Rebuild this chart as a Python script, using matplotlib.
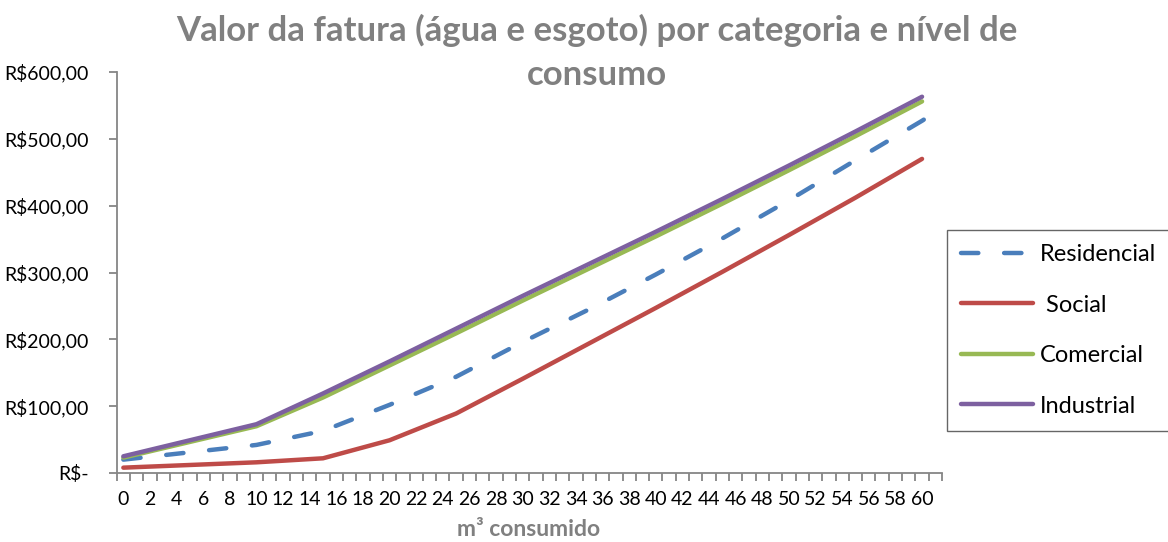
import matplotlib
matplotlib.use("Agg")
import matplotlib.pyplot as plt
from matplotlib.ticker import FixedLocator, FuncFormatter

# ---- data ----
consumo_res = [0, 10, 15, 20, 25, 30, 35, 40, 45, 50, 55, 60, 61]
residencial = [20, 42, 63, 102, 144, 196, 245, 297, 351, 408, 468, 527, 540]

consumo = [0, 10, 15, 20, 25, 30, 35, 40, 45, 50, 55, 60]
social = [8, 16, 22, 49, 89, 141, 194, 247, 301, 356, 412, 470]
comercial = [23, 70, 113, 161, 209, 258, 306, 354, 403, 453, 504, 556]
industrial = [25, 73, 119, 167, 216, 265, 313, 361, 410, 460, 511, 563]

series_labels = ["Residencial", " Social", "Comercial", "Industrial"]
x_tick_labels = [str(v) for v in range(0, 61, 2)]
y_ticks = [0, 100, 200, 300, 400, 500, 600]

title_line1 = "Valor da fatura (água e esgoto) por categoria e nível de"
title_line2 = "consumo"
x_title = "m³ consumido"

# ---- style ----
plt.rcParams['font.family'] = ['Lato', 'DejaVu Sans']
W, H = 1168, 542
fig = plt.figure(figsize=(W / 100, H / 100), dpi=100)
ax = fig.add_axes([116.7 / W, 1 - 473 / H, (942 - 116.7) / W, (473 - 72) / H])

axis_gray = "#868686"
lw = 3.2
ax.plot(consumo_res, residencial, color="#4A7EBB", lw=lw,
        linestyle=(0, (3.9, 5.8)), dash_capstyle="round", solid_capstyle="round",
        label=series_labels[0])
ax.plot(consumo, social, color="#BE4B48", lw=lw, solid_capstyle="round", label=series_labels[1])
ax.plot(consumo, comercial, color="#98B954", lw=lw, solid_capstyle="round", label=series_labels[2])
ax.plot(consumo, industrial, color="#7D60A0", lw=lw, solid_capstyle="round", label=series_labels[3])

ax.set_xlim(-0.5, 61.5)
ax.set_ylim(0, 600)

for s in ["top", "right"]:
    ax.spines[s].set_visible(False)
for s in ["left", "bottom"]:
    ax.spines[s].set_color(axis_gray)
    ax.spines[s].set_linewidth(1.3)

ax.set_yticks(y_ticks)
ax.yaxis.set_major_formatter(FuncFormatter(lambda v, p: "R$-" if v == 0 else
                                           "R${:,.2f}".format(v).replace(",", "X").replace(".", ",").replace("X", ".")))
ax.tick_params(axis="y", length=6, width=1.3, color=axis_gray, labelsize=14, pad=14)

ax.xaxis.set_major_locator(FixedLocator(list(range(0, 61, 2))))
ax.set_xticklabels(x_tick_labels)
ax.xaxis.set_minor_locator(FixedLocator([i - 0.5 for i in range(0, 63)]))
ax.tick_params(axis="x", which="major", length=0, labelsize=14, pad=13)
ax.tick_params(axis="x", which="minor", length=6, width=1.3, color=axis_gray)

fig.text(597 / W, 1 - 30 / H, title_line1, ha="center", va="center", fontsize=25,
         fontweight="bold", color="#808080")
fig.text(597 / W, 1 - 75 / H, title_line2, ha="center", va="center", fontsize=25,
         fontweight="bold", color="#808080")
fig.text(529 / W, 1 - 530 / H, x_title, ha="center", va="center", fontsize=16.5,
         fontweight="bold", color="#808080")

leg_h = 0.1
leg = fig.legend(loc="upper left", bbox_to_anchor=(947 / W, 1 - 230 / H - leg_h, 300 / W, leg_h),
                 mode="expand", fontsize=17, handlelength=3.05, labelspacing=1.25,
                 frameon=True, fancybox=False, borderpad=0.6, handletextpad=0.3,
                 borderaxespad=0)
leg.get_frame().set_edgecolor("#404040")
leg.get_frame().set_linewidth(1.0)

fig.savefig("out.png", dpi=100)
